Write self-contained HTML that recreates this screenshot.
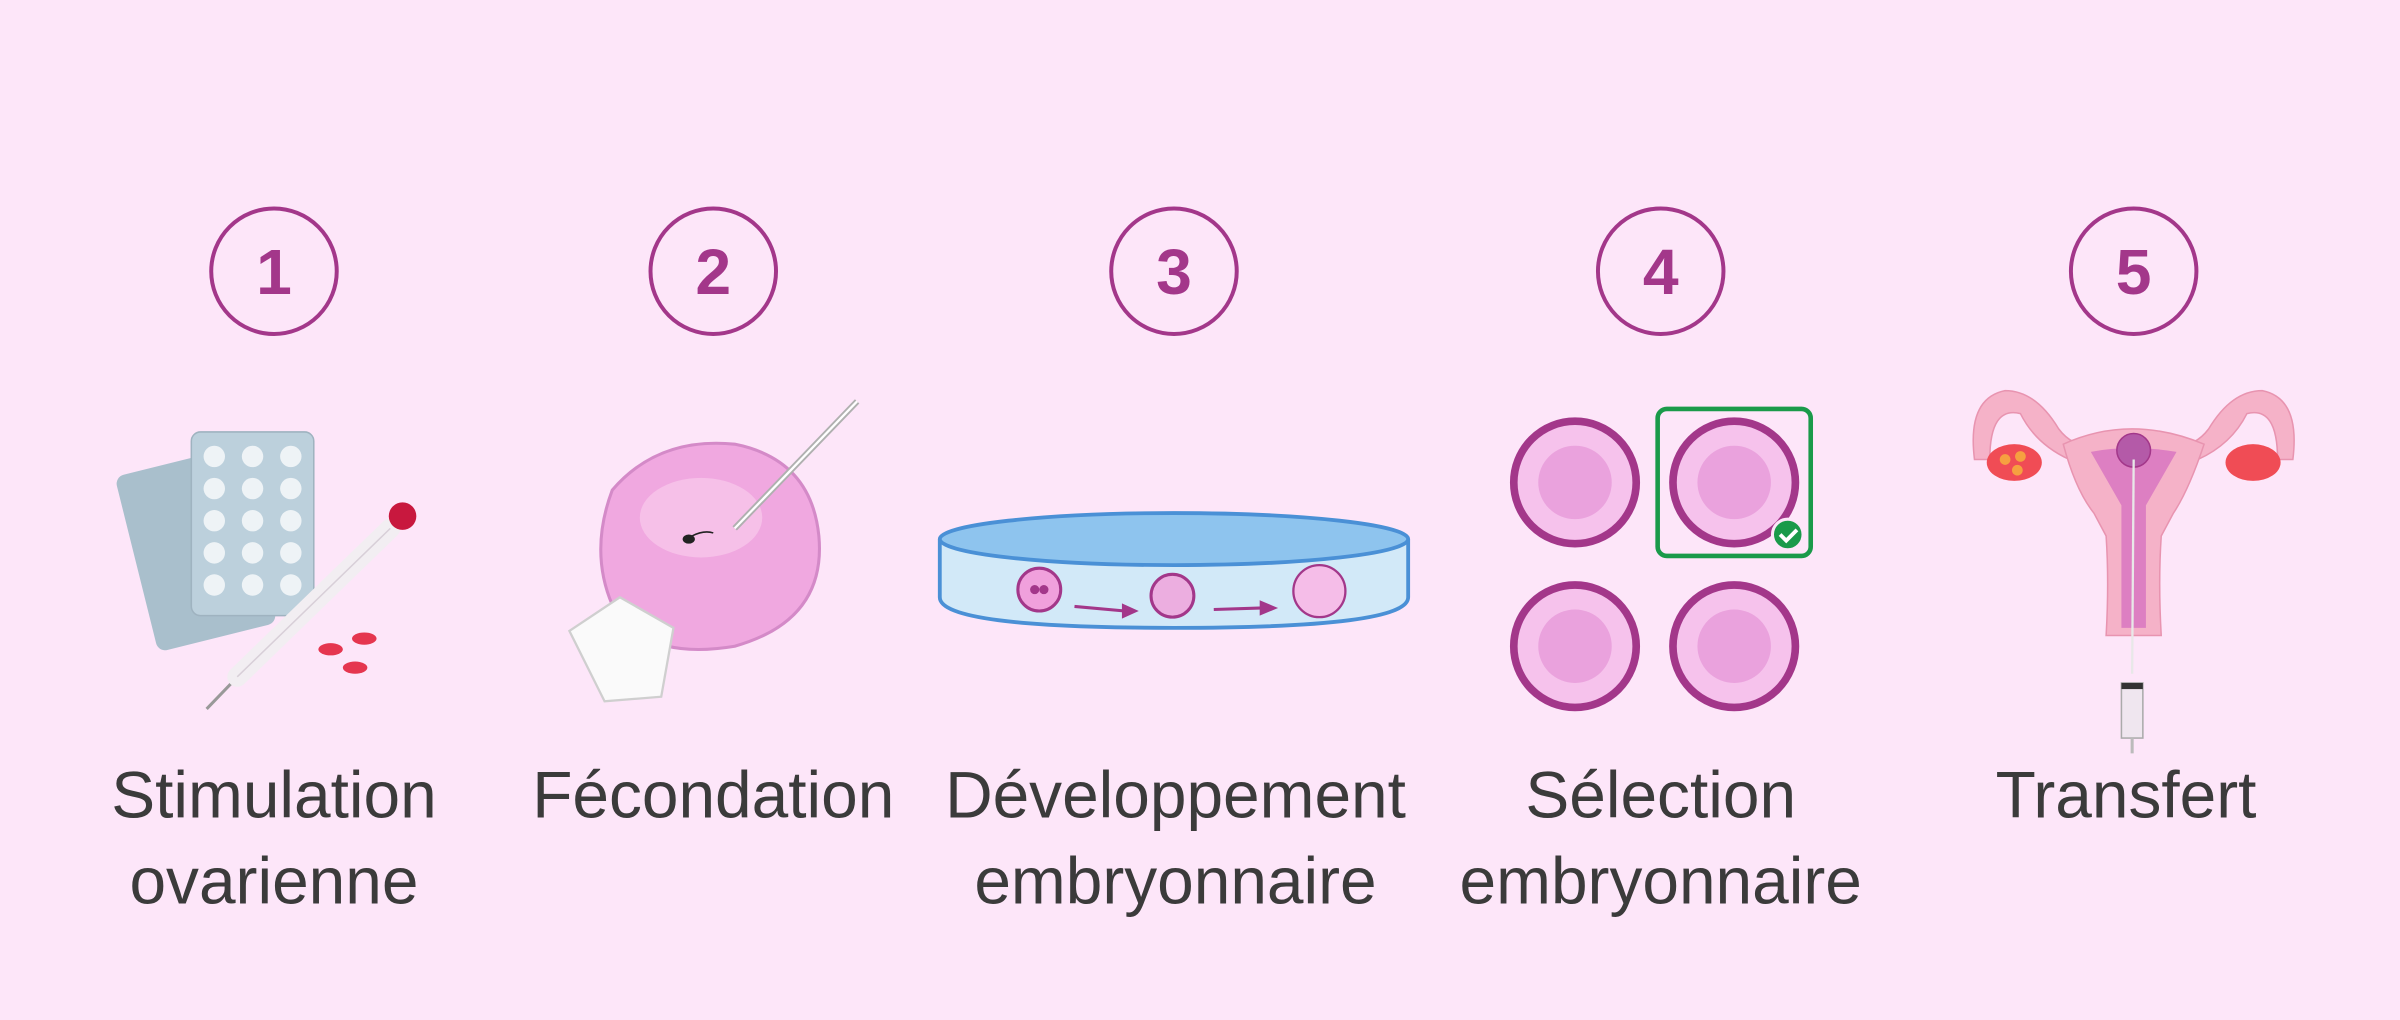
<!DOCTYPE html>
<html><head><meta charset="utf-8"><style>
html,body{margin:0;padding:0;background:#fde6f9;}
svg{display:block}
</style></head><body>
<svg width="2400" height="1020" viewBox="0 0 1568 666" xmlns="http://www.w3.org/2000/svg">
<rect width="1568" height="666" fill="#fde6f9"/>
<g fill="none" stroke="#a3378a" stroke-width="2.6">
<circle cx="179" cy="177" r="41"/><circle cx="466" cy="177" r="41"/><circle cx="767" cy="177" r="41"/><circle cx="1085" cy="177" r="41"/><circle cx="1394" cy="177" r="41"/>
</g>
<g font-family="Liberation Sans, sans-serif" font-weight="bold" font-size="42" fill="#a3378a" text-anchor="middle">
<text x="179" y="192">1</text><text x="466" y="192">2</text><text x="767" y="192">3</text><text x="1085" y="192">4</text><text x="1394" y="192">5</text>
</g>
<g font-family="Liberation Sans, sans-serif" font-size="43" fill="#3b3b3b" text-anchor="middle">
<text x="179" y="534">Stimulation</text><text x="179" y="590">ovarienne</text>
<text x="466" y="534">Fécondation</text>
<text x="768" y="534">Développement</text><text x="768" y="590">embryonnaire</text>
<text x="1085" y="534">Sélection</text><text x="1085" y="590">embryonnaire</text>
<text x="1389" y="534">Transfert</text>
</g>
<!-- 1 pills & syringe -->
<g>
<rect x="88" y="300" width="80" height="118" rx="6" fill="#a9bfcc" transform="rotate(-14 128 359)"/>
<rect x="125" y="282" width="80" height="120" rx="6" fill="#bcd0dc" stroke="#9fb3c0"/>
<g fill="#eef3f6">
<circle cx="140" cy="298" r="7"/><circle cx="165" cy="298" r="7"/><circle cx="190" cy="298" r="7"/>
<circle cx="140" cy="319" r="7"/><circle cx="165" cy="319" r="7"/><circle cx="190" cy="319" r="7"/>
<circle cx="140" cy="340" r="7"/><circle cx="165" cy="340" r="7"/><circle cx="190" cy="340" r="7"/>
<circle cx="140" cy="361" r="7"/><circle cx="165" cy="361" r="7"/><circle cx="190" cy="361" r="7"/>
<circle cx="140" cy="382" r="7"/><circle cx="165" cy="382" r="7"/><circle cx="190" cy="382" r="7"/>
</g>
<line x1="135" y1="463" x2="160" y2="437" stroke="#999" stroke-width="2"/>
<line x1="155" y1="442" x2="255" y2="345" stroke="#f2eef2" stroke-width="13" stroke-linecap="round"/>
<line x1="155" y1="442" x2="255" y2="345" stroke="#d8cfd8" stroke-width="1"/>
<circle cx="263" cy="337" r="9" fill="#c8183e"/>
<ellipse cx="216" cy="424" rx="8" ry="4" fill="#e5364f"/><ellipse cx="232" cy="436" rx="8" ry="4" fill="#e5364f"/><ellipse cx="238" cy="417" rx="8" ry="4" fill="#e5364f"/>
</g>
<!-- 2 egg -->
<g>
<path d="M400 320 Q430 285 480 290 Q530 300 535 350 Q540 405 480 422 Q420 432 400 395 Q385 360 400 320Z" fill="#f0a8e0" stroke="#d48ac8" stroke-width="2"/>
<ellipse cx="458" cy="338" rx="40" ry="26" fill="#f7c6ea" opacity="0.8"/>
<path d="M372 412 L405 390 L440 410 L432 455 L395 458 Z" fill="#fafafa" stroke="#cfcfcf" stroke-width="1.5"/>
<line x1="480" y1="345" x2="560" y2="262" stroke="#b0b0b0" stroke-width="4"/>
<line x1="480" y1="345" x2="560" y2="262" stroke="#fff" stroke-width="1.5"/>
<ellipse cx="450" cy="352" rx="4" ry="3" fill="#222"/>
<path d="M452 350 q8 -4 14 -2" stroke="#222" fill="none"/>
</g>
<!-- 3 dish -->
<g>
<path d="M614 352 L614 390 Q614 410 767 410 Q920 410 920 390 L920 352" fill="#d2e9f8" stroke="#4a90d6" stroke-width="2.5"/>
<ellipse cx="767" cy="352" rx="153" ry="17" fill="#8ec4ee" stroke="#4a90d6" stroke-width="2.5"/>
<circle cx="679" cy="385" r="14" fill="#f0a0dc" stroke="#a3378a" stroke-width="2"/>
<circle cx="676" cy="385" r="3" fill="#a3378a"/><circle cx="682" cy="385" r="3" fill="#a3378a"/>
<circle cx="766" cy="389" r="14" fill="#ecaee0" stroke="#a3378a" stroke-width="2"/>
<circle cx="862" cy="386" r="17" fill="#f5bde8" stroke="#a3378a" stroke-width="1.5"/>
<path d="M702 396 L735 399" stroke="#a3378a" stroke-width="2"/><path d="M733 394 L744 399 L733 404Z" fill="#a3378a"/>
<path d="M793 398 L825 397" stroke="#a3378a" stroke-width="2"/><path d="M823 392 L835 397 L823 402Z" fill="#a3378a"/>
</g>
<!-- 4 selection -->
<g>
<rect x="1083" y="267" width="100" height="96" rx="6" fill="none" stroke="#1a9a4a" stroke-width="3"/>
<g stroke="#a3378a" stroke-width="5" fill="#f6c2ec">
<circle cx="1029" cy="315" r="40"/><circle cx="1133" cy="315" r="40"/><circle cx="1029" cy="422" r="40"/><circle cx="1133" cy="422" r="40"/>
</g>
<g fill="#e99fdc" opacity="0.9">
<circle cx="1029" cy="315" r="24"/><circle cx="1133" cy="315" r="24"/><circle cx="1029" cy="422" r="24"/><circle cx="1133" cy="422" r="24"/>
</g>
<circle cx="1168" cy="349" r="10" fill="#1a9a4a" stroke="#fde6f9" stroke-width="2"/>
<path d="M1163 349 l4 4 l7 -7" stroke="#fff" stroke-width="2.5" fill="none"/>
</g>
<!-- 5 uterus -->
<g>
<path d="M1290 300 Q1285 260 1310 255 Q1330 255 1345 280 Q1360 300 1390 285 Q1370 300 1352 300 Q1330 290 1320 270 Q1300 265 1300 300Z" fill="#f5b2c8" stroke="#e894b0"/>
<path d="M1498 300 Q1503 260 1478 255 Q1458 255 1443 280 Q1428 300 1398 285 Q1418 300 1436 300 Q1458 290 1468 270 Q1488 265 1488 300Z" fill="#f5b2c8" stroke="#e894b0"/>
<path d="M1348 290 Q1392 270 1440 290 Q1430 320 1420 335 L1412 350 Q1410 380 1412 415 L1376 415 Q1378 380 1376 350 L1368 335 Q1356 320 1348 290Z" fill="#f5b2c8" stroke="#e894b0"/>
<path d="M1366 295 Q1392 290 1422 295 L1402 330 L1402 410 L1386 410 L1386 330Z" fill="#dd7fc2"/>
<circle cx="1394" cy="294" r="11" fill="#b45aa8" stroke="#a3378a"/>
<ellipse cx="1316" cy="302" rx="18" ry="12" fill="#f04c55"/>
<circle cx="1310" cy="300" r="3.5" fill="#f6a040"/><circle cx="1320" cy="298" r="3.5" fill="#f6a040"/><circle cx="1318" cy="307" r="3.5" fill="#f6a040"/>
<ellipse cx="1472" cy="302" rx="18" ry="12" fill="#f04c55"/>
<line x1="1394" y1="300" x2="1393" y2="440" stroke="#e8e8e8" stroke-width="1.5"/>
<rect x="1386" y="446" width="14" height="36" fill="#efe6ef" stroke="#aaa"/>
<rect x="1386" y="446" width="14" height="4" fill="#333"/>
<line x1="1393" y1="482" x2="1393" y2="492" stroke="#bbb" stroke-width="2"/>
</g>
</svg>
</body></html>
